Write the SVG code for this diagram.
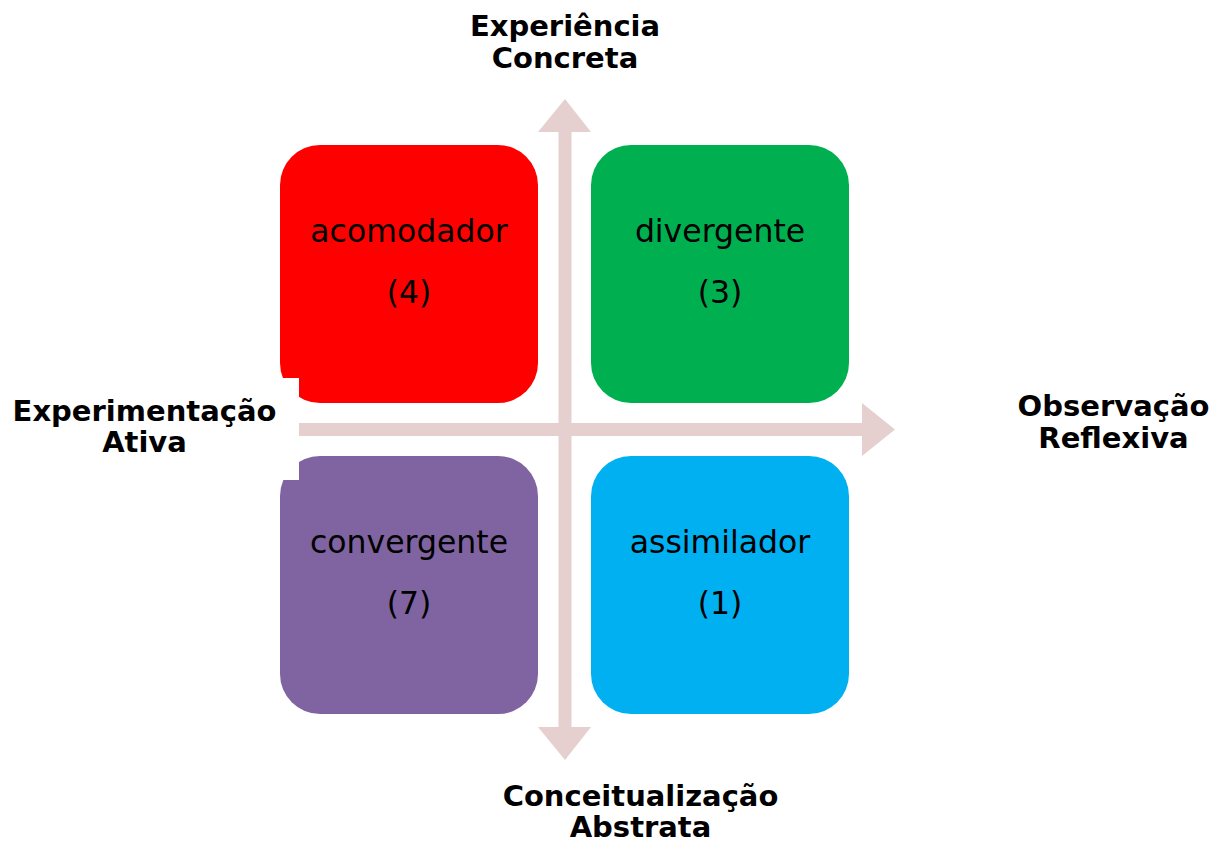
<svg xmlns="http://www.w3.org/2000/svg" width="1224" height="844" viewBox="0 0 1224 844">
<style>
.lbl{font-family:"DejaVu Sans","Verdana",sans-serif;font-weight:bold;font-size:29px;fill:#000;text-anchor:middle}
.nt{font-family:"DejaVu Sans","Verdana",sans-serif;font-size:31.5px;fill:#000;text-anchor:middle}
.arrow{fill:#E6CFCF}
</style>
<rect width="1224" height="844" fill="#fff"/>
<g id="connectors">
<polygon class="arrow" points="565,99 591,132 571.5,132 571.5,727 591,727 565,760 538,727 558.5,727 558.5,132 538,132"/>
<polygon class="arrow" points="299,423 862,423 862,403 895,429.5 862,456 862,436 299,436"/>
</g>
<g id="acomodador">
<rect x="280" y="145" width="258" height="258" rx="40" fill="#FF0000"/>
<rect x="280" y="378" width="19" height="26" fill="#fff"/>
<text class="nt" x="409" y="242">acomodador</text>
<text class="nt" x="409" y="303">(4)</text>
</g>
<g id="divergente">
<rect x="591" y="145" width="258" height="258" rx="40" fill="#00B050"/>
<text class="nt" x="720" y="242">divergente</text>
<text class="nt" x="720" y="303">(3)</text>
</g>
<g id="convergente">
<rect x="280" y="456" width="258" height="258" rx="40" fill="#8064A2"/>
<rect x="280" y="455" width="19" height="25" fill="#fff"/>
<text class="nt" x="409" y="553">convergente</text>
<text class="nt" x="409" y="614">(7)</text>
</g>
<g id="assimilador">
<rect x="591" y="456" width="258" height="258" rx="40" fill="#00B0F0"/>
<text class="nt" x="720" y="553">assimilador</text>
<text class="nt" x="720" y="614">(1)</text>
</g>
<g id="experiencia-concreta">
<text class="lbl"><tspan x="565" y="36">Experiência</tspan><tspan x="565" y="68">Concreta</tspan></text>
</g>
<g id="conceitualizacao-abstrata">
<text class="lbl"><tspan x="640.5" y="806">Conceitualização</tspan><tspan x="640.5" y="837">Abstrata</tspan></text>
</g>
<g id="experimentacao-ativa">
<text class="lbl"><tspan x="144.5" y="421">Experimentação</tspan><tspan x="144.5" y="452">Ativa</tspan></text>
</g>
<g id="observacao-reflexiva">
<text class="lbl"><tspan x="1113.5" y="416">Observação</tspan><tspan x="1113.5" y="448">Reflexiva</tspan></text>
</g>
</svg>
